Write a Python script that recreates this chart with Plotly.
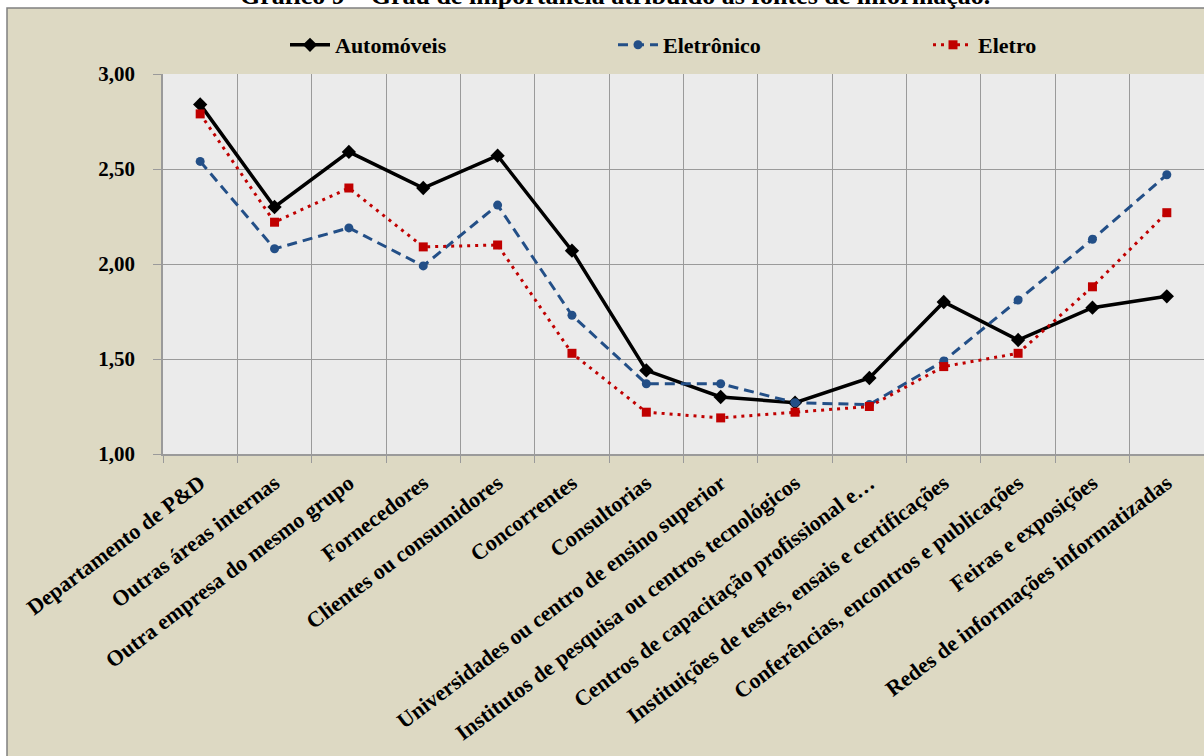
import plotly.graph_objects as go

# Fontes de informação (eixo x)
fontes = [
    "Departamento de P&D",
    "Outras áreas internas",
    "Outra empresa do mesmo grupo",
    "Fornecedores",
    "Clientes ou consumidores",
    "Concorrentes",
    "Consultorias",
    "Universidades ou centro de ensino superior",
    "Institutos de pesquisa ou centros tecnológicos",
    "Centros de capacitação profissional e…",
    "Instituições de testes, ensais e certificações",
    "Conferências, encontros e publicações",
    "Feiras e exposições",
    "Redes de informações informatizadas",
]

# Grau médio de importância por setor
automoveis = [2.84, 2.30, 2.59, 2.40, 2.57, 2.07, 1.44, 1.30, 1.27, 1.40, 1.80, 1.60, 1.77, 1.83]
eletronico = [2.54, 2.08, 2.19, 1.99, 2.31, 1.73, 1.37, 1.37, 1.27, 1.26, 1.49, 1.81, 2.13, 2.47]
eletro = [2.79, 2.22, 2.40, 2.09, 2.10, 1.53, 1.22, 1.19, 1.22, 1.25, 1.46, 1.53, 1.88, 2.27]

y_ticks = [1.0, 1.5, 2.0, 2.5, 3.0]

titulo = "Gráfico 9 – Grau de importância atribuído às fontes de informação."

FONT = "Liberation Serif"
BEIGE = "#ddd9c3"
PLOT_BG = "#ebebeb"
GRID = "#9a9a9a"
AZUL = "#234f87"
VERMELHO = "#c00000"

W, H = 1204, 756
ML, MR, MT, MB = 163, 0, 74, 302
PW, PH = W - ML - MR, H - MT - MB


def px_to_paper_x(px):
    return (px - ML) / PW


def px_to_paper_y(py):
    return (H - MB - py) / PH


fig = go.Figure()

fig.add_trace(go.Scatter(
    x=fontes, y=automoveis, name="Automóveis", mode="lines+markers",
    line=dict(color="black", width=3.5),
    marker=dict(symbol="diamond", size=11, color="black"),
    legend="legend",
))
fig.add_trace(go.Scatter(
    x=fontes, y=eletronico, name="Eletrônico", mode="lines+markers",
    line=dict(color=AZUL, width=3, dash="10px,6px"),
    marker=dict(symbol="circle", size=9, color=AZUL),
    legend="legend2",
))
fig.add_trace(go.Scatter(
    x=fontes, y=eletro, name="Eletro", mode="lines+markers",
    line=dict(color=VERMELHO, width=3, dash="3px,5px"),
    marker=dict(symbol="square", size=9, color=VERMELHO),
    legend="legend3",
))

# Moldura bege do gráfico e fundo cinza da área de plotagem
fig.add_shape(
    type="rect", xref="paper", yref="paper", layer="below",
    x0=px_to_paper_x(7), x1=px_to_paper_x(W + 10),
    y0=px_to_paper_y(H + 10), y1=px_to_paper_y(8),
    fillcolor=BEIGE, line=dict(color="#808080", width=1.5),
)
fig.add_shape(
    type="rect", xref="paper", yref="paper", layer="below",
    x0=0, x1=1, y0=0, y1=1,
    fillcolor=PLOT_BG, line=dict(width=0),
)

fig.add_annotation(
    text="<b>" + titulo + "</b>", xref="paper", yref="paper",
    x=px_to_paper_x(615), y=px_to_paper_y(12), xanchor="center", yanchor="bottom",
    showarrow=False, font=dict(family=FONT, size=26, color="black"),
)


def legenda(texto_x):
    return dict(
        orientation="h", x=px_to_paper_x(texto_x - 52), y=px_to_paper_y(45),
        xanchor="left", yanchor="middle",
        bgcolor="rgba(0,0,0,0)", itemwidth=40,
        font=dict(family=FONT, size=22, color="black", weight="bold"),
    )


fig.update_layout(
    width=W, height=H,
    margin=dict(l=ML, r=MR, t=MT, b=MB),
    paper_bgcolor="white",
    plot_bgcolor="rgba(0,0,0,0)",
    separators=",.",
    font=dict(family=FONT, size=20, color="black"),
    showlegend=True,
    legend=legenda(337),
    legend2=legenda(665),
    legend3=legenda(980),
    xaxis=dict(
        type="category",
        tickson="boundaries",
        showgrid=True, gridcolor=GRID, gridwidth=1,
        showline=True, linecolor=GRID, linewidth=1.5,
        ticks="outside", ticklen=7, tickcolor=GRID,
        tickangle=-37,
        ticklabelstandoff=6,
        tickfont=dict(family=FONT, size=22, color="black", weight="bold"),
        range=[-0.5, len(fontes) - 0.5],
        fixedrange=True,
    ),
    yaxis=dict(
        range=[1.0, 3.0],
        tickvals=y_ticks, tickformat=".2f",
        showgrid=True, gridcolor=GRID, gridwidth=1,
        showline=True, linecolor=GRID, linewidth=1.5,
        ticks="outside", ticklen=8, tickcolor=GRID,
        ticklabelstandoff=14,
        tickfont=dict(family=FONT, size=21, color="black", weight="bold"),
        zeroline=False,
        fixedrange=True,
    ),
)

fig.write_html("out.html")
